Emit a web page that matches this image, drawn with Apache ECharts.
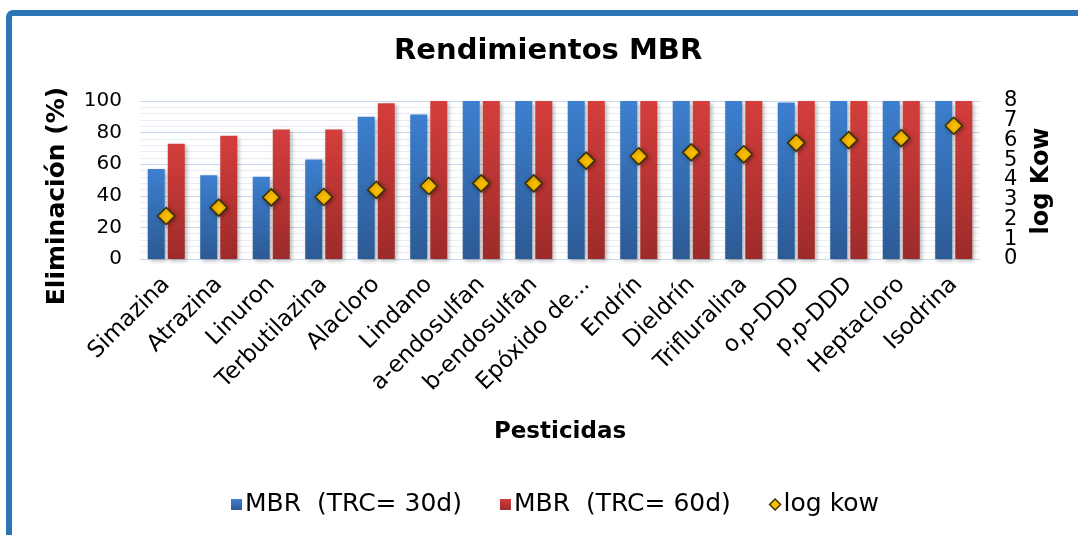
<!DOCTYPE html>
<html>
<head>
<meta charset="utf-8">
<script src="https://cdn.jsdelivr.net/npm/echarts@6/dist/echarts.min.js"></script>
<style>
html,body{margin:0;padding:0;background:#fff;}
#chart{width:1078px;height:535px;}
</style>
</head>
<body>
<div id="chart"></div>
<script>
const categories = ['Simazina','Atrazina','Linuron','Terbutilazina','Alacloro','Lindano','a-endosulfan','b-endosulfan','Epóxido de heptacloro','Endrín','Dieldrín','Trifluralina','o,p-DDD','p,p-DDD','Heptacloro','Isodrina'];
const mbr30 = [57, 53, 52, 63, 90, 91.5, 100, 100, 100, 100, 100, 100, 99, 100, 100, 100];
const mbr60 = [73, 78, 82, 82, 98.5, 100, 100, 100, 100, 100, 100, 100, 100, 100, 100, 100];
const logKow = [2.18, 2.6, 3.12, 3.14, 3.5, 3.7, 3.83, 3.83, 4.98, 5.2, 5.4, 5.3, 5.88, 6.02, 6.12, 6.75];
const leftTicks = [0, 20, 40, 60, 80, 100];
const rightTicks = [0, 1, 2, 3, 4, 5, 6, 7, 8];

const FONT = 'DejaVu Sans';
const chart = echarts.init(document.getElementById('chart'));
const grad = (top, bottom) => new echarts.graphic.LinearGradient(0, 0, 0, 1, [
  {offset: 0, color: top}, {offset: 1, color: bottom}
]);
const barShadow = {shadowColor: 'rgba(0,0,0,0.28)', shadowBlur: 4, shadowOffsetX: 2, shadowOffsetY: 2};
const rightAxis = (parity) => ({
  type: 'value', min: 0, max: 8, interval: 1, position: 'right', offset: 0,
  axisLine: {show: false}, axisTick: {show: false},
  axisLabel: {fontSize: 21, color: '#000', fontFamily: FONT, margin: 24,
    showMinLabel: true, showMaxLabel: true,
    formatter: v => (rightTicks.includes(v) && v % 2 === parity) ? String(v) : ''},
  splitLine: {show: false}
});

chart.setOption({
  animation: false,
  textStyle: {fontFamily: FONT},
  title: {
    text: 'Rendimientos MBR', left: 394, top: 37, padding: 0,
    textStyle: {fontFamily: FONT, fontWeight: 'bold', fontSize: 29, color: '#000'}
  },
  graphic: [
    {type: 'rect', z: -1, shape: {x: 9, y: 13, width: 1200, height: 700, r: 4},
     style: {fill: 'none', stroke: '#2E75B6', lineWidth: 6}},
    {type: 'text', x: 57, y: 196, rotation: Math.PI / 2,
     style: {text: 'Eliminación (%)', font: 'bold 25px "DejaVu Sans"', fill: '#000', align: 'center', verticalAlign: 'middle'}},
    {type: 'text', x: 1042, y: 181, rotation: Math.PI / 2,
     style: {text: 'log Kow', font: 'bold 24px "DejaVu Sans"', fill: '#000', align: 'center', verticalAlign: 'middle'}},
    {type: 'text', x: 560, y: 432,
     style: {text: 'Pesticidas', font: 'bold 23px "DejaVu Sans"', fill: '#000', align: 'center', verticalAlign: 'middle'}}
  ],
  legend: {
    left: 226, top: 487, itemWidth: 11, itemHeight: 11, itemGap: 38,
    textStyle: {fontFamily: FONT, fontSize: 25, color: '#000', padding: [0, 0, 0, -2]},
    data: [
      {name: 'MBR  (TRC= 30d)', icon: 'rect'},
      {name: 'MBR  (TRC= 60d)', icon: 'rect'},
      {name: 'log kow', icon: 'diamond', itemStyle: {color: '#FFC000', borderColor: '#3A3000', borderWidth: 1.5, shadowBlur: 0}}
    ]
  },
  grid: {left: 140, right: 98, top: 101, bottom: 276, containLabel: false},
  xAxis: {
    type: 'category', data: categories,
    axisLine: {lineStyle: {color: '#C9D8EC', width: 1}},
    axisTick: {show: false},
    axisLabel: {
      rotate: 45, fontSize: 23, color: '#000', fontFamily: FONT, margin: 22, interval: 0,
      formatter: v => v.length > 14 ? 'Epóxido de...' : v
    }
  },
  yAxis: [
    {
      type: 'value', min: 0, max: 100, interval: 20,
      axisLine: {show: false}, axisTick: {show: false},
      axisLabel: {fontSize: 20, color: '#000', fontFamily: FONT, margin: 18,
        showMinLabel: true, showMaxLabel: true,
        formatter: v => leftTicks.includes(v) ? String(v) : ''},
      splitLine: {lineStyle: {color: '#C9D8EC', width: 1}},
      minorTick: {show: false, splitNumber: 5},
      minorSplitLine: {show: true, lineStyle: {color: '#E8EEF6', width: 1}}
    },
    rightAxis(0),
    rightAxis(1)
  ],
  series: [
    {
      name: 'MBR  (TRC= 30d)', type: 'bar', data: mbr30, barWidth: 17, barGap: '18%',
      itemStyle: Object.assign({color: grad('#3D7FCF', '#2C5A94')}, barShadow)
    },
    {
      name: 'MBR  (TRC= 60d)', type: 'bar', data: mbr60, barWidth: 17, barGap: '18%',
      itemStyle: Object.assign({color: grad('#D43E3C', '#9C2B2A')}, barShadow)
    },
    {
      name: 'log kow', type: 'scatter', yAxisIndex: 1, data: logKow,
      symbol: 'diamond', symbolSize: 17, z: 5,
      itemStyle: {color: '#FFC000', borderColor: '#3A3000', borderWidth: 1.5, opacity: 1,
        shadowColor: 'rgba(0,0,0,0.35)', shadowBlur: 4, shadowOffsetX: 1, shadowOffsetY: 1}
    }
  ]
});
</script>
</body>
</html>
